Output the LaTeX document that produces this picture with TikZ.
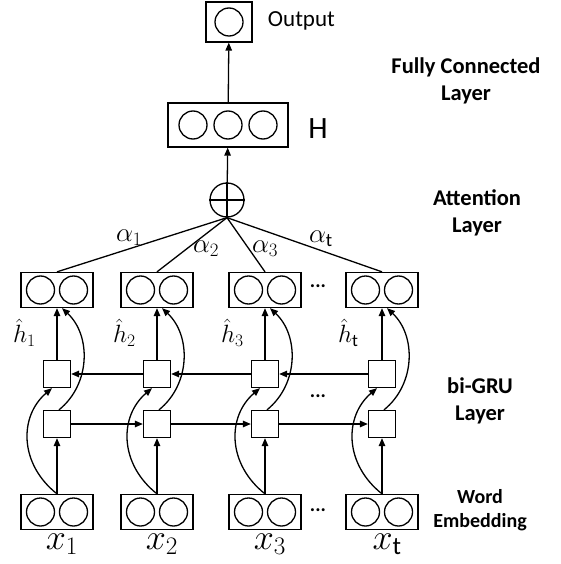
\RequirePackage{fix-cm}
\documentclass[tikz,border=0pt]{standalone}
\usepackage{fontspec}
\setmainfont{Carlito}
\usetikzlibrary{arrows.meta}

\tikzset{
  unit/.style={draw, minimum width=72pt, minimum height=35pt, inner sep=0pt},
  cell/.style={draw, minimum size=27pt, inner sep=0pt},
  neuron/.style={draw, circle, minimum size=28pt, inner sep=0pt},
  layername/.style={font=\bfseries\fontsize{22.5}{27}\selectfont, align=center},
  dots/.style={font=\bfseries\fontsize{20}{22}\selectfont, inner sep=0pt},
  weight/.style={font=\fontsize{27}{27}\selectfont, inner sep=0pt}
}

\begin{document}
\begin{tikzpicture}[x=1pt, y=-1pt, line width=1.3pt, >={Triangle[length=8pt,width=6.5pt]}]
\useasboundingbox (0,0) rectangle (560,564);

% units for every time step
\foreach \c/\px in {1/57, 2/157, 3/265, t/382} {
  \node[unit] (h\c) at (\px,290) {};
  \node[unit] (x\c) at (\px,512) {};
  \node[cell] (b\c) at (\px,374) {};
  \node[cell] (f\c) at (\px,424) {};
  \foreach \r in {h,x} {
    \node[neuron] (\r\c l) at ([xshift=-16.5pt]\r\c.center) {};
    \node[neuron] (\r\c r) at ([xshift=16.5pt]\r\c.center) {};
  }
  \draw[->] (x\c) -- (f\c);
  \draw[->] (b\c) -- (h\c);
  \draw[->] (x\c.north) .. controls +(-38,-30) and +(-33,28) .. ([xshift=-5pt]b\c.south);
  \draw[->] ([xshift=2pt]f\c.north) .. controls +(32,-26) and +(29,27) .. ([xshift=5pt]h\c.south);
}

% forward and backward GRU chains
\foreach \a/\b in {1/2, 2/3, 3/t} {
  \draw[->] (f\a) -- (f\b);
  \draw[->] (b\b) -- (b\a);
}

\node[dots] (d1) at (318,286) {...};
\node[dots] (d2) at (318,396) {...};
\node[dots] (d3) at (318,510) {...};

% attention sum
\node[draw, circle, minimum size=34pt, inner sep=0pt] (sum) at (227,200) {};
\draw (sum.north) -- (sum.south) (sum.west) -- (sum.east);
\foreach \c in {1,2,3,t}
  \draw (sum.south) -- (h\c.north);

\node[weight] (a1) at (129,238) {$\alpha_1$};
\node[weight] (a2) at (206,249) {$\alpha_2$};
\node[weight] (a3) at (265,249) {$\alpha_3$};
\node[weight] (at) at (321,239) {$\alpha_{\mathrm{t}}$};

% fully connected part
\node[draw, minimum width=120pt, minimum height=44pt, inner sep=0pt] (H) at (228,125) {};
\foreach \dx [count=\i] in {-35,0,35}
  \node[neuron] (H\i) at ([xshift=\dx pt]H.center) {};
\node[draw, minimum width=46pt, minimum height=40pt, inner sep=0pt] (out) at (229,22) {};
\node[neuron] (o1) at (out.center) {};
\draw[->] (sum) -- (H);
\draw[->] (H) -- (out);

\node[font=\fontsize{31}{31}\selectfont] (Hname) at (318,129) {H};
\node[font=\fontsize{23}{26}\selectfont, anchor=west] (outname) at (264,21) {Output};

% hidden state and input names
\foreach \c/\s in {1/1, 2/2, 3/3, t/\mathrm{t}} {
  \node[font=\fontsize{25}{25}\selectfont, anchor=north west, inner sep=0pt] (hn\c) at ([xshift=-8pt,yshift=-10pt]h\c.south west) {$\hat{h}_{\s}$};
  \node[font=\fontsize{36}{36}\selectfont, anchor=north, inner sep=0pt] (xn\c) at ([xshift=5pt,yshift=-3pt]x\c.south) {$x_{\s}$};
}

% layer names
\node[layername] (fc) at (466,81) {Fully Connected\\Layer};
\node[layername] (att) at (477,213) {Attention\\Layer};
\node[layername] (gru) at (480,401) {bi-GRU\\Layer};
\node[layername, font=\bfseries\fontsize{20}{24}\selectfont] (emb) at (480,510) {Word\\Embedding};

\end{tikzpicture}
\end{document}
